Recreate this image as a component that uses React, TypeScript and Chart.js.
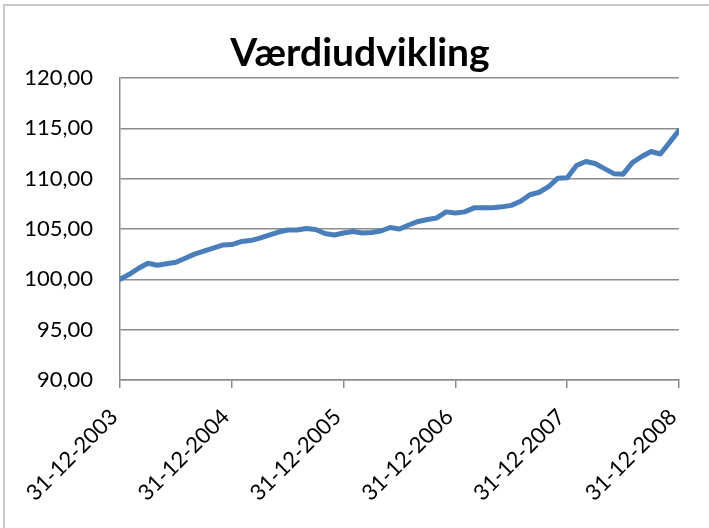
import React, { useEffect, useRef } from "react";
import { Chart, registerables } from "chart.js";

Chart.register(...registerables);

const TITLE = "Værdiudvikling";
const X_TICK_LABELS = ["31-12-2003", "31-12-2004", "31-12-2005", "31-12-2006", "31-12-2007", "31-12-2008"];
const MONTHS_PER_TICK = 12;
const VALUES = [
  100.0, 100.5, 101.1, 101.6, 101.4, 101.55, 101.7, 102.1, 102.5, 102.8, 103.1, 103.4,
  103.45, 103.75, 103.85, 104.1, 104.4, 104.7, 104.9, 104.9, 105.05, 104.95, 104.55, 104.4,
  104.6, 104.75, 104.6, 104.65, 104.8, 105.15, 105.0, 105.4, 105.75, 105.95, 106.1, 106.7,
  106.6, 106.7, 107.1, 107.1, 107.1, 107.2, 107.35, 107.75, 108.4, 108.65, 109.2, 110.05,
  110.1, 111.3, 111.7, 111.5, 111.0, 110.5, 110.45, 111.6, 112.2, 112.7, 112.45, 113.6,
  114.8,
];
const Y_MIN = 90;
const Y_MAX = 120;
const Y_STEP = 5;

const FONT = "Lato, 'Open Sans', sans-serif";
const GRID = "#8c8c8c";

export default function App() {
  const ref = useRef<HTMLCanvasElement | null>(null);

  useEffect(() => {
    if (!ref.current) return;
    const frame = {
      id: "frame",
      beforeDraw(chart: any) {
        const ctx = chart.ctx;
        ctx.save();
        ctx.fillStyle = "#ffffff";
        ctx.fillRect(0, 0, chart.width, chart.height);
        ctx.strokeStyle = "#c8c8c8";
        ctx.lineWidth = 2;
        ctx.beginPath();
        ctx.moveTo(4, chart.height + 5);
        ctx.lineTo(4, 5);
        ctx.lineTo(chart.width + 5, 5);
        ctx.stroke();
        ctx.restore();
      },
      afterDraw(chart: any) {
        const ctx = chart.ctx;
        ctx.save();
        ctx.fillStyle = "#000";
        ctx.font = `bold 39px ${FONT}`;
        ctx.textAlign = "center";
        ctx.textBaseline = "alphabetic";
        ctx.fillText(TITLE, 360, 66);
        ctx.restore();
      },
    };

    const chart = new Chart(ref.current, {
      type: "line",
      data: {
        datasets: [
          {
            data: VALUES.map((v, i) => ({ x: i, y: v })),
            borderColor: "#4a7ebb",
            borderWidth: 5,
            pointRadius: 0,
            tension: 0,
            borderJoinStyle: "round",
            borderCapStyle: "round",
            fill: false,
          },
        ],
      },
      options: {
        animation: false,
        responsive: false,
        layout: { padding: { top: 78, right: 30, left: 0, bottom: 0 } },
        plugins: { legend: { display: false }, title: { display: false }, tooltip: { enabled: false } },
        scales: {
          x: {
            type: "linear",
            min: 0,
            max: (X_TICK_LABELS.length - 1) * MONTHS_PER_TICK,
            grid: { drawOnChartArea: false, drawTicks: true, tickLength: 8, color: GRID, lineWidth: 1.5 },
            border: { display: true, color: GRID, width: 1.5 },
            ticks: {
              stepSize: MONTHS_PER_TICK,
              autoSkip: false,
              minRotation: 45,
              maxRotation: 45,
              padding: 16,
              labelOffset: -6,
              color: "#000",
              font: { family: FONT, size: 22 },
              callback: (v: any) => X_TICK_LABELS[Math.round(Number(v) / MONTHS_PER_TICK)] ?? "",
            },
            afterFit: (s: any) => {
              s.height = 148;
              s.paddingLeft = 0;
              s.paddingRight = 0;
            },
          },
          y: {
            min: Y_MIN,
            max: Y_MAX,
            grid: { drawTicks: false, color: GRID, lineWidth: 1.5 },
            border: { display: true, color: GRID, width: 1.5 },
            ticks: {
              stepSize: Y_STEP,
              padding: 27,
              color: "#000",
              font: { family: FONT, size: 22 },
              callback: (v: any) => Number(v).toFixed(2).replace(".", ","),
            },
            afterFit: (s: any) => {
              s.width = 120;
            },
          },
        },
      },
      plugins: [frame],
    } as any);
    return () => chart.destroy();
  }, []);

  return (
    <div style={{ position: "fixed", left: 0, top: 0, width: 709, height: 528, background: "#fff" }}>
      <canvas ref={ref} width={709} height={528} style={{ display: "block", width: 709, height: 528 }} />
    </div>
  );
}
